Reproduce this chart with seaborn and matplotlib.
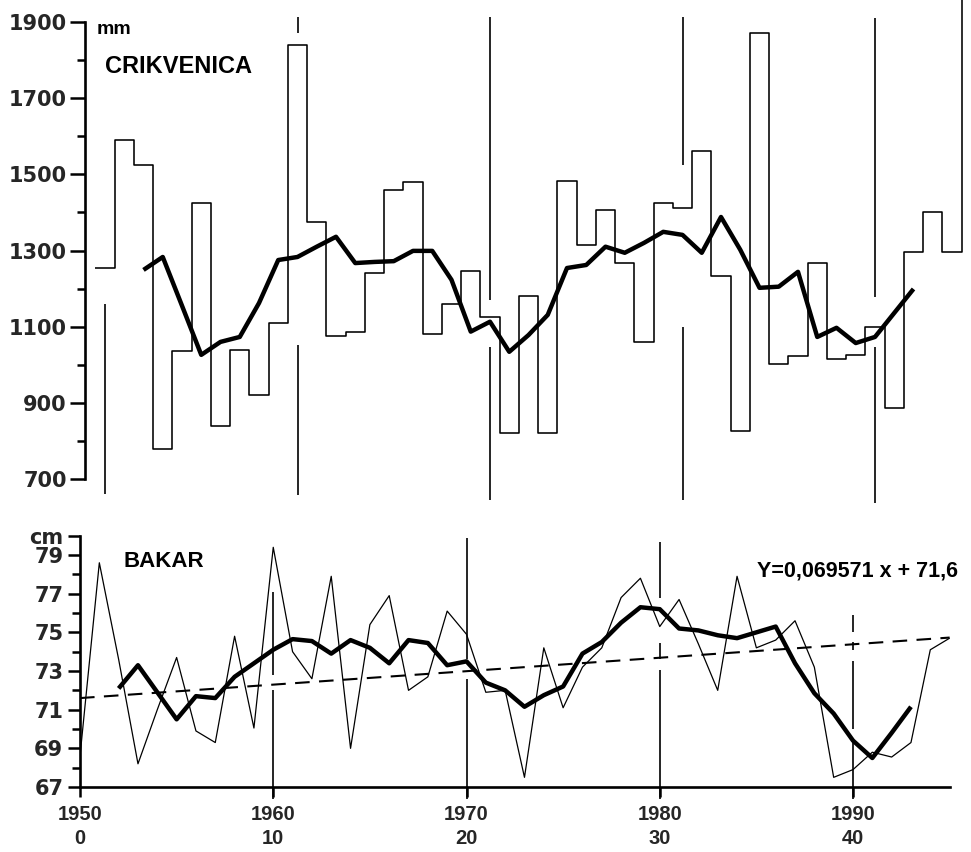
import numpy as np
import pandas as pd
import matplotlib
matplotlib.use("Agg")
import matplotlib.pyplot as plt
import seaborn as sns
from matplotlib.font_manager import FontProperties

# ---------------- data ----------------
years = list(range(1950, 1996))
crikvenica_mm = [1255, 1590, 1525, 780, 1035, 1425, 840, 1040, 920, 1110,
                 1840, 1375, 1075, 1085, 1240, 1460, 1480, 1080, 1160, 1245,
                 1125, 820, 1180, 820, 1483, 1315, 1407, 1267, 1060, 1425,
                 1412, 1561, 1233, 826, 1871, 1002, 1023, 1267, 1015, 1026,
                 1100, 887, 1296, 1400, 1296, 2020]
ma_years_top = list(range(1952, 1993))
crikvenica_ma = [1249, 1283, 1155, 1026, 1060, 1073, 1162, 1275, 1283, 1310,
                 1336, 1267, 1270, 1272, 1299, 1299, 1223, 1087, 1113, 1034,
                 1078, 1131, 1254, 1262, 1310, 1294, 1320, 1349, 1341, 1294,
                 1388, 1302, 1202, 1205, 1244, 1073, 1097, 1057, 1073, 1136,
                 1199]
bakar_cm = [68.6, 78.6, 73.6, 68.2, 71.0, 73.7, 69.9, 69.3, 74.8, 70.05,
            79.4, 74.0, 72.6, 77.9, 69.0, 75.4, 76.9, 72.0, 72.7, 76.1,
            74.9, 71.9, 72.0, 67.5, 74.2, 71.1, 73.2, 74.2, 76.8, 77.8,
            75.3, 76.7, 74.4, 72.0, 77.9, 74.2, 74.6, 75.6, 73.2, 67.5,
            67.9, 68.8, 68.55, 69.3, 74.1, 74.7]
ma_years_bottom = list(range(1952, 1994))
bakar_ma = [72.1, 73.3, 71.9, 70.5, 71.7, 71.6, 72.7, 73.4, 74.1, 74.65,
            74.55, 73.9, 74.6, 74.2, 73.4, 74.6, 74.45, 73.3, 73.5, 72.4,
            72.0, 71.15, 71.75, 72.2, 73.9, 74.5, 75.5, 76.3, 76.2, 75.2,
            75.1, 74.85, 74.7, 75.0, 75.3, 73.4, 71.85, 70.8, 69.4, 68.5,
            69.8, 71.15]
trend_slope = 0.069571
trend_intercept = 71.6
decades = [1950, 1960, 1970, 1980, 1990]
decade_index = [0, 10, 20, 30, 40]
top_major = [700, 900, 1100, 1300, 1500, 1700, 1900]
top_minor = [800, 1000, 1200, 1400, 1600, 1800]
bottom_major = [67, 69, 71, 73, 75, 77, 79, 80]
bottom_major_labels = ["67", "69", "71", "73", "75", "77", "79", "cm"]
bottom_minor = [68, 70, 72, 74, 76, 78]
top_decade_segments = {1950: [(660, 1160)],
                       1960: [(659, 1052), (1871, 1913)],
                       1970: [(645, 1047), (1170, 1913)],
                       1980: [(645, 1100), (1525, 1913)],
                       1990: [(637, 1047), (1178, 1910)]}
bottom_decade_segments = {1960: [(66.4, 72.0), (72.8, 77.1)],
                          1970: [(66.4, 72.6), (73.6, 79.9)],
                          1980: [(66.4, 73.05), (73.6, 74.45), (76.8, 79.7)],
                          1990: [(66.4, 69.5), (70.0, 73.5), (74.1, 74.5), (75.0, 75.9)]}
equation_text = "Y=0,069571 x + 71,6"

# ---------------- style ----------------
sns.set_theme(style="white")
plt.rcParams["font.family"] = ["DejaVu Sans"]
plt.rcParams["lines.solid_capstyle"] = "butt"

W, H = 971, 852
fig = plt.figure(figsize=(W / 100, H / 100), dpi=100)
fig.patch.set_facecolor("white")

def px_axes(x0, y0, x1, y1):
    return fig.add_axes([x0 / W, 1 - y1 / H, (x1 - x0) / W, (y1 - y0) / H])

lib_bold = dict(family=["Liberation Sans", "DejaVu Sans"], weight="bold")
wide_bold = FontProperties(family=["DejaVu Sans"], weight="bold", size=15)

# ---------------- top panel: Crikvenica ----------------
ax1 = px_axes(85, 0, 971, 517)
px_per_year_top = 19.25
ax1.set_xlim(1950 - 20 / px_per_year_top, 1950 + 866 / px_per_year_top)
px_per_mm = 457 / 1200
ax1.set_ylim(1900 - (517 - 22) / px_per_mm, 1900 + 22 / px_per_mm)
ax1.patch.set_alpha(0)

edges = np.array(years, dtype=float) - 0.5
step_df = pd.DataFrame({"x": np.append(edges, edges[-1] + 1),
                        "y": crikvenica_mm + [crikvenica_mm[-1]]})
sns.lineplot(data=step_df, x="x", y="y", ax=ax1, drawstyle="steps-post",
             color="black", lw=1.15, estimator=None, sort=False)
ma_top_df = pd.DataFrame({"year": ma_years_top, "mm": crikvenica_ma})
sns.lineplot(data=ma_top_df, x="year", y="mm", ax=ax1, color="black",
             lw=3.2, estimator=None, sort=False)
for d, segs in top_decade_segments.items():
    for lo, hi in segs:
        ax1.vlines(d, lo, hi, color="black", lw=1.2)

for s in ["top", "right", "bottom"]:
    ax1.spines[s].set_visible(False)
ax1.spines["left"].set_bounds(700, 1900)
ax1.spines["left"].set_linewidth(1.9)
ax1.spines["left"].set_color("black")
ax1.set_xticks([])
ax1.set_yticks(top_major)
ax1.set_yticks(top_minor, minor=True)
ax1.set_yticklabels([str(v) for v in top_major], fontproperties=wide_bold)
ax1.tick_params(axis="y", which="major", direction="out", length=11, width=1.8,
                color="black", pad=2, left=True)
ax1.tick_params(axis="y", which="minor", direction="out", length=6, width=1.8,
                color="black", left=True)
ax1.set_xlabel("")
ax1.set_ylabel("")
ax1.grid(False)

fig.text(97 / W, 1 - 34 / H, "mm", fontsize=14, color="black", **lib_bold)
fig.text(105 / W, 1 - 73 / H, "CRIKVENICA", fontsize=17, color="black", **lib_bold)

# ---------------- bottom panel: Bakar ----------------
ax2 = px_axes(80, 517, 971, 787)
px_per_year = 19.325
ax2.set_xlim(1950, 1950 + 891 / px_per_year)
px_per_cm = 19.33
ax2.set_ylim(67, 67 + 270 / px_per_cm)
ax2.patch.set_alpha(0)

bakar_df = pd.DataFrame({"year": years, "cm": bakar_cm})
sns.lineplot(data=bakar_df, x="year", y="cm", ax=ax2, color="black", lw=0.9,
             estimator=None, sort=False)
ma_bot_df = pd.DataFrame({"year": ma_years_bottom, "cm": bakar_ma})
sns.lineplot(data=ma_bot_df, x="year", y="cm", ax=ax2, color="black", lw=3.2,
             estimator=None, sort=False)
trend_df = pd.DataFrame({"year": [years[0], years[-1]],
                         "cm": [trend_intercept + trend_slope * (y - years[0])
                                for y in (years[0], years[-1])]})
sns.lineplot(data=trend_df, x="year", y="cm", ax=ax2, color="black", lw=1.5,
             linestyle=(0, (7, 4.5)), estimator=None, sort=False)
for d, segs in bottom_decade_segments.items():
    for lo, hi in segs:
        ax2.vlines(d, lo, hi, color="black", lw=1.2, clip_on=False)

for s in ["top", "right"]:
    ax2.spines[s].set_visible(False)
for s in ["left", "bottom"]:
    ax2.spines[s].set_linewidth(1.9)
    ax2.spines[s].set_color("black")
ax2.spines["left"].set_bounds(67, 80)
ax2.spines["bottom"].set_bounds(1950, 1995)
ax2.set_yticks(bottom_major)
ax2.set_yticks(bottom_minor, minor=True)
ax2.set_yticklabels(bottom_major_labels, fontproperties=wide_bold)
ax2.tick_params(axis="y", which="major", direction="out", length=9, width=1.8,
                color="black", pad=3, left=True)
ax2.tick_params(axis="y", which="minor", direction="out", length=6, width=1.8,
                color="black", left=True)
ax2.set_xticks(decades)
ax2.set_xticklabels([f"{d}\n{i}" for d, i in zip(decades, decade_index)],
                    fontsize=14.5, linespacing=1.3, **lib_bold)
ax2.tick_params(axis="x", which="major", direction="out", length=7, width=1.8,
                color="black", pad=6, bottom=True)
ax2.set_xlabel("")
ax2.set_ylabel("")
ax2.grid(False)

fig.text(123 / W, 1 - 567 / H, "BAKAR", fontsize=16, color="black", **lib_bold)
fig.text(757 / W, 1 - 577 / H, equation_text, fontsize=15.5, color="black",
         **lib_bold)

fig.savefig("out.png", dpi=100, facecolor="white")
